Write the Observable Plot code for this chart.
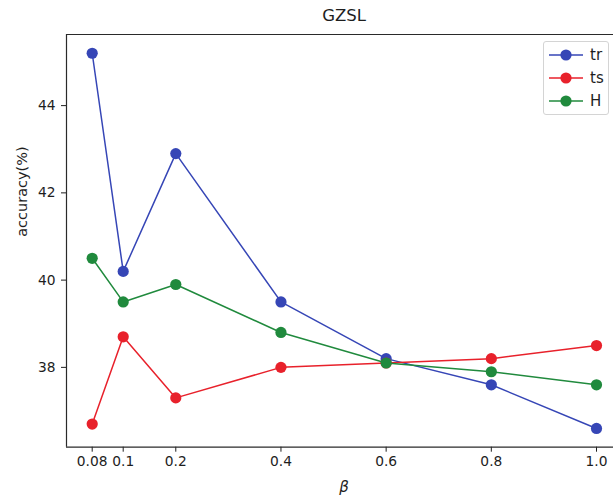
<!DOCTYPE html>
<html>
<head>
<meta charset="utf-8">
<script src="https://cdn.jsdelivr.net/npm/d3@7"></script>
<script src="https://cdn.jsdelivr.net/npm/@observablehq/plot@0.6"></script>
<style>
  html, body { margin: 0; padding: 0; background: #fff; overflow: hidden; }
  #wrap { position: relative; width: 613px; height: 500px; font-family: "DejaVu Sans", sans-serif; }
  .legend { position: absolute; left: 543px; top: 41px; width: 66px; height: 74px;
    border: 1px solid #d4d4d4; border-radius: 3px; background: rgba(255,255,255,0.85); box-sizing: border-box; }
  .legend .row { position: absolute; left: 0; height: 20px; }
  .legend svg { position: absolute; left: 4px; top: 0; }
  .legend span { position: absolute; left: 46px; top: 1px; font-size: 15px; color: #1e1e1e; line-height: 18px; }
</style>
</head>
<body>
<div id="wrap"></div>
<script>
// ---- data ----
const betas = [0.08, 0.1, 0.2, 0.4, 0.6, 0.8, 1.0];
const tickLabels = ["0.08", "0.1", "0.2", "0.4", "0.6", "0.8", "1.0"];
const tr = [45.2, 40.2, 42.9, 39.5, 38.2, 37.6, 36.6];
const ts = [36.7, 38.7, 37.3, 38.0, 38.1, 38.2, 38.5];
const H  = [40.5, 39.5, 39.9, 38.8, 38.1, 37.9, 37.6];
const seriesNames = ["tr", "ts", "H"];
const seriesColors = ["#3646b6", "#e8212b", "#208a3d"];
const yTicks = [38, 40, 42, 44];
const title = "GZSL";
const xLabel = "β";
const yLabel = "accuracy(%)";

// ---- layout ----
const W = 613, Ht = 500;
const mL = 66, mT = 34, mB = 53.3;
// x axis of the original is piecewise (0.08 sits closer to the edge)
const xDomain = [0.0634, 0.08, 0.1, 1.0, 1.048];
const xRange = [66, 91.7, 122.7, 596, 621];
const yDomain = [36.17, 45.63];

const seriesValues = [tr, ts, H];
const rows = [];
seriesNames.forEach((s, k) => betas.forEach((b, i) => rows.push({series: s, beta: b, value: seriesValues[k][i]})));

const marks = [];
// frame (right side lies outside the picture)
marks.push(Plot.ruleY([yDomain[0], yDomain[1]], {stroke: "#2a2a2a", strokeWidth: 1.2}));
marks.push(Plot.ruleX([xDomain[0]], {stroke: "#2a2a2a", strokeWidth: 1.2}));
seriesNames.forEach(s => {
  const d = rows.filter(r => r.series === s);
  marks.push(Plot.line(d, {x: "beta", y: "value", stroke: "series", strokeWidth: 1.5}));
  marks.push(Plot.dot(d, {x: "beta", y: "value", fill: "series", r: 5.6, stroke: null}));
});
marks.push(Plot.text([title], {frameAnchor: "top", dx: 4, dy: -19, fontSize: 16.5, fill: "#1e1e1e", lineAnchor: "middle"}));
marks.push(Plot.text([xLabel], {frameAnchor: "bottom", dx: 4, dy: 40, fontSize: 15, fontStyle: "italic", fill: "#1e1e1e", lineAnchor: "middle"}));
marks.push(Plot.text([yLabel], {frameAnchor: "left", rotate: -90, dx: -44, dy: -4, fontSize: 14.5, fill: "#1e1e1e", lineAnchor: "middle"}));

const chart = Plot.plot({
  width: W,
  height: Ht,
  marginLeft: mL,
  marginRight: 0,
  marginTop: mT,
  marginBottom: mB,
  style: {fontFamily: "DejaVu Sans", fontSize: "13.8px", color: "#1e1e1e", background: "white", overflow: "visible"},
  x: {type: "linear", domain: xDomain, range: xRange, ticks: betas,
      tickFormat: d => tickLabels[betas.indexOf(d)], tickSize: 5, tickPadding: 4, label: null},
  y: {domain: yDomain, ticks: yTicks, tickFormat: d => String(d), tickSize: 5, tickPadding: 6, label: null},
  color: {domain: seriesNames, range: seriesColors},
  marks
});
const wrap = document.getElementById("wrap");
wrap.appendChild(chart);

// legend
const legend = document.createElement("div");
legend.className = "legend";
const rowTops = [3, 26, 49];
seriesNames.forEach((s, i) => {
  const row = document.createElement("div");
  row.className = "row";
  row.style.top = rowTops[i] + "px";
  row.innerHTML = `<svg width="36" height="20"><line x1="1" x2="35" y1="10" y2="10" stroke="${seriesColors[i]}" stroke-width="1.5"/><circle cx="18" cy="10" r="5.6" fill="${seriesColors[i]}"/></svg><span>${s}</span>`;
  legend.appendChild(row);
});
wrap.appendChild(legend);
</script>
</body>
</html>
